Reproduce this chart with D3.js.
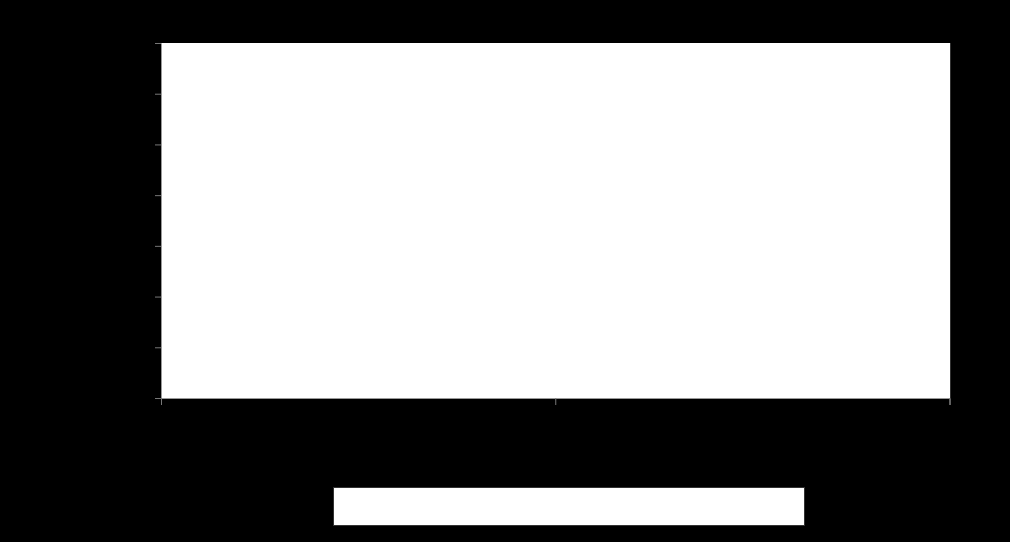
<!DOCTYPE html>
<html>
<head>
<meta charset="utf-8">
<script src="https://cdn.jsdelivr.net/npm/d3@7"></script>
<style>
  body { margin: 0; background: #000; }
</style>
</head>
<body>
<div id="chart"></div>
<script>
// axis ticks (labels are black on black in the source, so they don't show)
const yTicks = [0, 1, 2, 3, 4, 5, 6, 7]
const xTicks = [0, 1, 2]
// no series visible in the plot area
const seriesValues = []

const width = 1010, height = 542
const margin = {top: 43, right: 60, bottom: 144, left: 161}
const w = width - margin.left - margin.right
const h = height - margin.top - margin.bottom

const svg = d3.select('#chart')
  .append('svg')
  .attr('width', width)
  .attr('height', height)
  .style('display', 'block')

// black background
svg.append('rect')
  .attr('width', width)
  .attr('height', height)
  .attr('fill', '#000')

const g = svg.append('g')
  .attr('transform', 'translate(' + margin.left + ',' + margin.top + ')')

const x = d3.scaleLinear()
  .domain(d3.extent(xTicks))
  .range([0, w - 0.5])

const y = d3.scaleLinear()
  .domain(d3.extent(yTicks))
  .range([h, 0])

// plot area
g.append('rect')
  .attr('x', 0)
  .attr('y', 0)
  .attr('width', w)
  .attr('height', h)
  .attr('fill', '#fff')

// right border
g.append('line')
  .attr('x1', w + 0.5).attr('x2', w + 0.5)
  .attr('y1', 0).attr('y2', h)
  .style('stroke', '#333')

// y axis
const yAxis = g.append('g')
  .call(d3.axisLeft(y).tickValues(yTicks).tickSize(6).tickPadding(6))
yAxis.select('.domain').attr('stroke', '#999')
yAxis.selectAll('.tick line').attr('stroke', '#777')
yAxis.selectAll('text').attr('fill', '#000').style('font', '12px sans-serif')

// x axis
const xAxis = g.append('g')
  .attr('transform', 'translate(0,' + h + ')')
  .call(d3.axisBottom(x).tickValues(xTicks).tickSize(7).tickPadding(6))
xAxis.select('.domain').attr('stroke', '#999')
xAxis.selectAll('.tick line').attr('stroke', '#777')
xAxis.selectAll('text').attr('fill', '#000').style('font', '12px sans-serif')

// series (none drawn)
const line = d3.line()
  .x((d, i) => x(i))
  .y(d => y(d))
g.selectAll('.series')
  .data(seriesValues)
  .enter().append('path')
  .attr('class', 'series')
  .attr('d', d => line(d))
  .attr('fill', 'none')
  .attr('stroke', '#fff')

// legend box
svg.append('rect')
  .attr('x', 333.5)
  .attr('y', 487.5)
  .attr('width', 471)
  .attr('height', 38)
  .attr('fill', '#fff')
  .attr('stroke', '#333')
</script>
</body>
</html>
